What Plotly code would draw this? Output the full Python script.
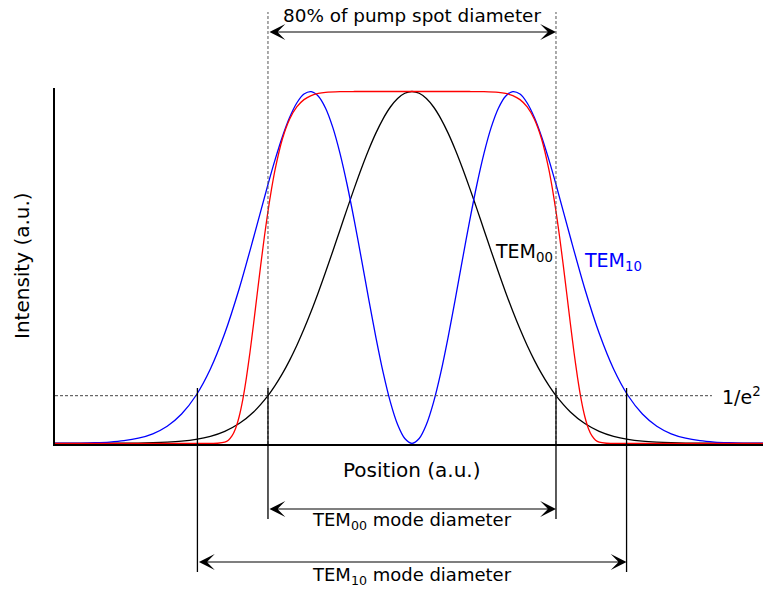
import plotly.graph_objects as go

# ---------------- data ----------------
pos = [-2.5, -2.4, -2.3, -2.2, -2.1, -2.0, -1.9, -1.8, -1.7, -1.6, -1.5, -1.4, -1.3, -1.2, -1.1,
       -1.0, -0.95, -0.9, -0.85, -0.8, -0.75, -0.7, -0.65, -0.6, -0.55, -0.5, -0.45, -0.4,
       -0.35, -0.3, -0.25, -0.2, -0.15, -0.1, -0.05, 0.0,
       0.05, 0.1, 0.15, 0.2, 0.25, 0.3, 0.35, 0.4, 0.45, 0.5, 0.55, 0.6, 0.65, 0.7, 0.75,
       0.8, 0.85, 0.9, 0.95, 1.0,
       1.1, 1.2, 1.3, 1.4, 1.5, 1.6, 1.7, 1.8, 1.9, 2.0, 2.1, 2.2, 2.3, 2.4, 2.5]

tem00 = [0.0000, 0.0000, 0.0000, 0.0001, 0.0001, 0.0003, 0.0007, 0.0015, 0.0031, 0.0060,
         0.0111, 0.0198, 0.0341, 0.0561, 0.0889,
         0.1353, 0.1645, 0.1979, 0.2357, 0.2780, 0.3247, 0.3753, 0.4296, 0.4868, 0.5461,
         0.6065, 0.6670, 0.7261, 0.7827, 0.8353, 0.8825, 0.9231, 0.9560, 0.9802, 0.9950, 1.0000,
         0.9950, 0.9802, 0.9560, 0.9231, 0.8825, 0.8353, 0.7827, 0.7261, 0.6670, 0.6065,
         0.5461, 0.4868, 0.4296, 0.3753, 0.3247, 0.2780, 0.2357, 0.1979, 0.1645, 0.1353,
         0.0889, 0.0561, 0.0341, 0.0198, 0.0111, 0.0060, 0.0031, 0.0015, 0.0007, 0.0003,
         0.0001, 0.0001, 0.0000, 0.0000, 0.0000]

tem10 = [0.0001, 0.0003, 0.0007, 0.0017, 0.0036, 0.0073, 0.0144, 0.0270, 0.0485, 0.0832,
         0.1359, 0.2114, 0.3128, 0.4394, 0.5849,
         0.7358, 0.8070, 0.8715, 0.9260, 0.9674, 0.9928, 0.9998, 0.9867, 0.9526, 0.8981,
         0.8244, 0.7343, 0.6317, 0.5213, 0.4087, 0.2999, 0.2007, 0.1169, 0.0533, 0.0135, 0.0000,
         0.0135, 0.0533, 0.1169, 0.2007, 0.2999, 0.4087, 0.5213, 0.6317, 0.7343, 0.8244,
         0.8981, 0.9526, 0.9867, 0.9998, 0.9928, 0.9674, 0.9260, 0.8715, 0.8070, 0.7358,
         0.5849, 0.4394, 0.3128, 0.2114, 0.1359, 0.0832, 0.0485, 0.0270, 0.0144, 0.0073,
         0.0036, 0.0017, 0.0007, 0.0003, 0.0001]

pump_pos = [-2.5, -1.4, -1.35, -1.3, -1.275, -1.25, -1.225, -1.2, -1.175, -1.15, -1.125,
            -1.1, -1.075, -1.05, -1.025, -1.0, -0.975, -0.95, -0.9, -0.85, -0.8, -0.75,
            -0.7, -0.65, -0.6, -0.5, -0.4, 0.0,
            0.4, 0.5, 0.6, 0.65, 0.7, 0.75, 0.8, 0.85, 0.9, 0.95, 0.975, 1.0, 1.025,
            1.05, 1.075, 1.1, 1.125, 1.15, 1.175, 1.2, 1.225, 1.25, 1.275, 1.3, 1.35,
            1.4, 2.5]
pump = [0.0, 0.0, 0.0002, 0.0032, 0.0089, 0.0208, 0.0422, 0.0761, 0.1240, 0.1858, 0.2589,
        0.3399, 0.4243, 0.5077, 0.5871, 0.6597, 0.7240, 0.7795, 0.8650, 0.9213, 0.9563,
        0.9769, 0.9883, 0.9944, 0.9975, 0.9996, 1.0000, 1.0000,
        1.0000, 0.9996, 0.9975, 0.9944, 0.9883, 0.9769, 0.9563, 0.9213, 0.8650, 0.7795,
        0.7240, 0.6597, 0.5871, 0.5077, 0.4243, 0.3399, 0.2589, 0.1858, 0.1240, 0.0761,
        0.0422, 0.0208, 0.0089, 0.0032, 0.0002, 0.0, 0.0]

inv_e2 = 0.1353          # 1/e^2 level
tem00_radius = 1.0       # TEM00 1/e^2 radius
tem10_radius = 1.49      # TEM10 1/e^2 radius
pump80_radius = 1.0      # 80 % of pump spot radius

x_range = [-2.479, 2.4375]
y_range = [-0.002, 1.01]

FONT = "DejaVu Sans"

# ---------------- layout helpers ----------------
PLOT_TOP, PLOT_BOTTOM = 88, 444
def py(px):
    """pixel row -> paper y"""
    return (PLOT_BOTTOM - px) / (PLOT_BOTTOM - PLOT_TOP)

fig = go.Figure()
fig.add_trace(go.Scatter(x=pos, y=tem00, mode="lines", line=dict(color="black", width=1.3, shape="spline", smoothing=0.8)))
fig.add_trace(go.Scatter(x=pos, y=tem10, mode="lines", line=dict(color="#0000ff", width=1.3, shape="spline", smoothing=0.8)))
fig.add_trace(go.Scatter(x=pump_pos, y=pump, mode="lines", line=dict(color="#ff0000", width=1.3, shape="spline", smoothing=0.6)))

shapes = []
# 1/e^2 level
shapes.append(dict(type="line", xref="x", yref="y", x0=x_range[0], x1=2.083, y0=inv_e2, y1=inv_e2,
                   line=dict(color="#444444", width=1, dash="3px,2px")))
for s in (-1, 1):
    # dashed 80 % pump lines
    shapes.append(dict(type="line", xref="x", yref="paper", x0=s * pump80_radius, x1=s * pump80_radius,
                       y0=0, y1=py(12), line=dict(color="#555555", width=1, dash="3px,2px")))
    # mode diameter markers
    shapes.append(dict(type="line", xref="x", yref="paper", x0=s * tem00_radius, x1=s * tem00_radius,
                       y0=py(388), y1=py(519), line=dict(color="black", width=1.3)))
    shapes.append(dict(type="line", xref="x", yref="paper", x0=s * tem10_radius, x1=s * tem10_radius,
                       y0=py(388), y1=py(572), line=dict(color="black", width=1.3)))

ann = []
def arrow(r, ypx):
    return dict(x=r, y=py(ypx), xref="x", yref="paper", ax=-r, ay=0, axref="x", ayref="pixel",
                text="", showarrow=True, arrowside="end+start", arrowhead=3, startarrowhead=3,
                arrowsize=2.2, startarrowsize=2.2, arrowwidth=1.2, arrowcolor="black", standoff=0,
                startstandoff=0)
ann.append(arrow(pump80_radius, 32))
ann.append(arrow(tem00_radius, 509))
ann.append(arrow(tem10_radius, 562))

def label(text, x, y, xref="x", yref="paper", size=19, color="black", xanchor="center", angle=0):
    return dict(text=text, x=x, y=y, xref=xref, yref=yref, showarrow=False, xanchor=xanchor,
                yanchor="middle", textangle=angle, font=dict(family=FONT, size=size, color=color))

ann.append(label("80% of pump spot diameter", 0, py(15), size=18.4))
ann.append(label("Position (a.u.)", 0, py(470), size=20))
ann.append(label("Intensity (a.u.)", (22 - 55) / 708, 0.5, xref="paper", size=20, angle=-90))
ann.append(label("TEM<sub>00</sub> mode diameter", 0, py(521), size=18))
ann.append(label("TEM<sub>10</sub> mode diameter", 0, py(576), size=18))
ann.append(label("Pump", 0.417, 1.048, yref="y", color="#ff0000"))
ann.append(label("TEM<sub>00</sub>", 0.5625, 0.543, yref="y", xanchor="left"))
ann.append(label("TEM<sub>10</sub>", 1.18, 0.517, yref="y", color="#0000ff", xanchor="left"))
ann.append(label("1/e<sup>2</sup>", 2.139, inv_e2, yref="y", xanchor="left"))

fig.update_layout(
    width=763, height=590,
    margin=dict(l=55, r=0, t=PLOT_TOP, b=590 - PLOT_BOTTOM),
    paper_bgcolor="white", plot_bgcolor="white",
    showlegend=False,
    font=dict(family=FONT, size=19, color="black"),
    shapes=shapes, annotations=ann,
    xaxis=dict(range=x_range, showline=True, linecolor="black", linewidth=1.5, showgrid=False,
               zeroline=False, showticklabels=False, ticks=""),
    yaxis=dict(range=y_range, showline=True, linecolor="black", linewidth=1.5, showgrid=False,
               zeroline=False, showticklabels=False, ticks=""),
)

fig.write_html("out.html")
